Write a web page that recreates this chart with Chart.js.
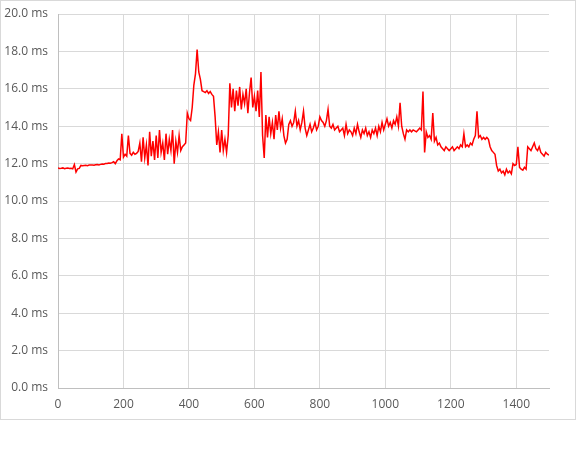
<!DOCTYPE html>
<html>
<head>
<meta charset="utf-8">
<script src="https://cdn.jsdelivr.net/npm/chart.js@4"></script>
<style>
    body { margin: 0; background: #fff; }
    #wrap { position: relative; width: 576px; height: 450px; }
    #frame {
        position: absolute; left: 0; top: 0; width: 576px; height: 420px;
        box-sizing: border-box; border: 1px solid #d9d9d9; pointer-events: none;
    }
</style>
</head>
<body>
<div id="wrap">
    <canvas id="chartCanvas" width="576" height="450"></canvas>
    <div id="frame"></div>
</div>
<script>
// Muestras cada 5 unidades en el eje X (0..1500)
const sampleStep = 5;

// Tiempo por muestra en ms
const frameTimes = [
    11.76, 11.74, 11.75, 11.77, 11.73, 11.75, 11.76, 11.74, 11.75, 11.72,  // 0
    11.95, 11.55, 11.72, 11.74, 11.90, 11.88, 11.90, 11.91, 11.89, 11.92,  // 50
    11.92, 11.93, 11.91, 11.94, 11.95, 11.93, 11.96, 11.98, 11.97, 12.00,  // 100
    12.01, 12.03, 12.02, 12.05, 12.10, 12.00, 12.15, 12.25, 12.20, 13.60,  // 150
    12.35, 12.50, 12.40, 13.50, 12.55, 12.45, 12.60, 12.50, 12.55, 12.65,  // 200
    13.1, 12.1, 13.4, 12.3, 13.0, 11.9, 13.7, 12.4, 13.2, 12.2,            // 250
    13.5, 12.3, 13.8, 12.6, 13.1, 12.2, 13.6, 12.5, 13.3, 12.7,            // 300
    13.8, 12.0, 13.2, 12.6, 13.5, 12.7, 12.9, 13.0, 13.1, 14.7,            // 350
    14.4, 14.3, 15.0, 16.2, 16.8, 18.1, 16.9, 16.5, 15.9, 15.85,           // 400
    15.8, 15.9, 15.75, 15.85, 15.7, 15.6, 14.5, 13.0, 13.7, 12.6,          // 450
    13.8, 12.7, 13.3, 12.6, 13.5, 16.3, 15.0, 16.0, 14.8, 15.9,            // 500
    15.1, 16.1, 14.9, 15.7, 15.2, 16.0, 14.7, 15.8, 16.6, 15.0,            // 550
    15.6, 14.8, 15.9, 14.5, 16.9, 13.5, 12.3, 14.6, 13.4, 14.5,            // 600
    13.6, 14.2, 13.3, 14.6, 13.8, 14.8, 13.9, 14.4, 13.5, 13.1,            // 650
    13.3, 14.1, 14.3, 14.0, 14.2, 14.8, 14.0, 14.3, 13.8, 14.2,            // 700
    14.8, 13.9, 13.5, 13.8, 14.1, 13.7, 13.9, 14.2, 13.8, 14.0,            // 750
    14.5, 14.3, 14.2, 14.0, 14.3, 14.9, 14.0, 13.9, 14.1, 13.8,            // 800
    13.9, 14.0, 13.7, 13.8, 13.9, 13.5, 14.1, 13.6, 13.8, 13.7,            // 850
    13.5, 13.9, 13.6, 14.1, 13.7, 13.4, 13.8, 13.6, 13.9, 13.5,            // 900
    13.7, 13.4, 13.8, 13.6, 13.9, 13.5, 14.0, 13.7, 14.2, 13.8,            // 950
    14.1, 14.4, 14.0, 14.2, 13.9, 14.3, 14.1, 14.5, 14.0, 15.25,           // 1000
    14.0, 13.6, 13.3, 13.8, 13.7, 13.8, 13.7, 13.8, 13.75, 13.7,           // 1050
    13.8, 13.9, 13.8, 15.85, 12.6, 13.7, 13.4, 13.5, 13.3, 14.7,           // 1100
    13.2, 13.4, 13.0, 13.1, 12.9, 12.8, 12.7, 12.9, 12.8, 12.7,            // 1150
    12.8, 12.9, 12.7, 12.8, 12.9, 12.8, 13.0, 12.9, 13.6, 12.9,            // 1200
    13.0, 12.9, 13.1, 13.0, 13.3, 13.5, 14.8, 13.4, 13.5, 13.3,            // 1250
    13.4, 13.3, 13.4, 13.3, 12.9, 12.7, 12.6, 12.5, 11.9, 11.6,            // 1300
    11.7, 11.5, 11.6, 11.4, 11.7, 11.5, 11.6, 11.45, 12.0, 11.9,           // 1350
    11.95, 12.9, 11.8, 11.7, 11.65, 11.8, 11.7, 12.9, 12.8, 12.7,          // 1400
    12.9, 13.1, 12.8, 12.7, 12.9, 12.6, 12.5, 12.4, 12.6, 12.5,            // 1450
    12.45                                                                   // 1500
];

const xMin = 0, xMax = 1500, xStep = 200;
const yMin = 0, yMax = 20, yStep = 2;

const tickColor = '#595959';
const gridColor = '#d9d9d9';
const axisColor = '#bfbfbf';
const fontFamily = "'Open Sans', 'Noto Sans', sans-serif";

const points = frameTimes.map((v, i) => ({ x: i * sampleStep, y: v }));

const ctx = document.getElementById('chartCanvas').getContext('2d');
new Chart(ctx, {
    type: 'line',
    data: {
        datasets: [{
            data: points,
            borderColor: '#ff0000',
            borderWidth: 1.5,
            pointRadius: 0,
            tension: 0,
            fill: false
        }]
    },
    options: {
        responsive: false,
        animation: false,
        layout: { padding: { top: 14, right: 27, bottom: 31, left: 0 } },
        plugins: { legend: { display: false }, tooltip: { enabled: false } },
        scales: {
            x: {
                type: 'linear',
                min: xMin,
                max: xMax,
                grid: { color: gridColor, drawTicks: false },
                border: { color: axisColor },
                ticks: {
                    stepSize: xStep,
                    includeBounds: false,
                    color: tickColor,
                    padding: 9,
                    maxRotation: 0,
                    font: { size: 12, family: fontFamily },
                    callback: function(value) { return String(value); }
                },
                afterFit: function(scale) {
                    scale.height = 31;
                    scale.paddingLeft = 0;
                    scale.paddingRight = 0;
                }
            },
            y: {
                min: yMin,
                max: yMax,
                grid: { color: gridColor, drawTicks: false },
                border: { color: axisColor },
                ticks: {
                    stepSize: yStep,
                    color: tickColor,
                    padding: 10,
                    font: { size: 12, family: fontFamily },
                    callback: function(value) { return value.toFixed(1) + ' ms'; }
                },
                afterFit: function(scale) {
                    scale.width = 58;
                    scale.paddingTop = 0;
                    scale.paddingBottom = 0;
                }
            }
        }
    }
});
</script>
</body>
</html>
